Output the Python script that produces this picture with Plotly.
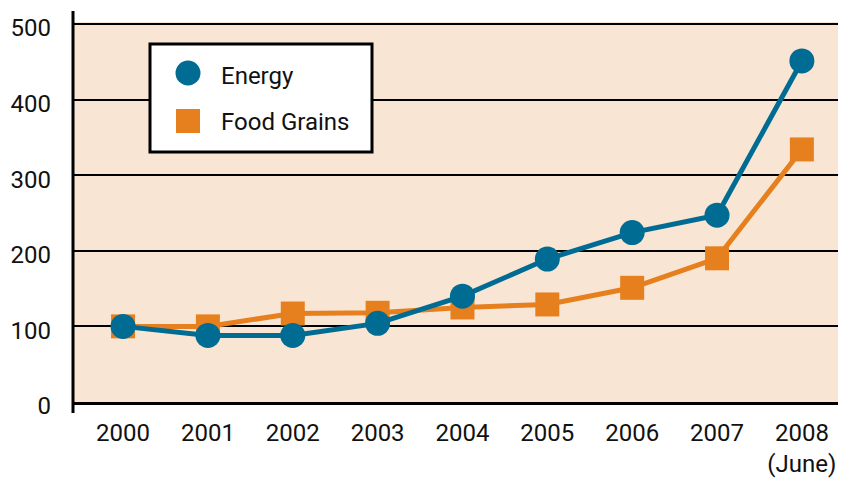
import plotly.graph_objects as go

categories = ["2000", "2001", "2002", "2003", "2004", "2005", "2006", "2007", "2008"]
tick_labels = ["2000", "2001", "2002", "2003", "2004", "2005", "2006", "2007", "2008<br>(June)"]
energy = [100, 88, 88, 104, 140, 189, 224, 247, 451]
food_grains = [100, 100, 117, 118, 125, 129, 151, 190, 334]
y_ticks = [0, 100, 200, 300, 400, 500]

BLUE = "#006c93"
ORANGE = "#e6801f"
BG = "#f9e5d4"
FONT = "Roboto, Liberation Sans, sans-serif"
FSIZE = 24

# page body has an 8px margin; size the figure so it ends at the window edge
OFF = 8
W, H = 846 - OFF, 478 - OFF
L, R, T, B = 73 - OFF, 0, 22 - OFF, 76
PW, PH = W - L - R, H - T - B


def px(x):
    """absolute window x -> paper x"""
    return (x - OFF - L) / PW


def py(y):
    """absolute window y -> paper y"""
    return (H - B - (y - OFF)) / PH


fig = go.Figure()
fig.add_trace(go.Scatter(
    x=categories, y=food_grains, name="Food Grains", mode="lines+markers",
    line=dict(color=ORANGE, width=5),
    marker=dict(symbol="square", size=24, color=ORANGE),
    showlegend=False,
))
fig.add_trace(go.Scatter(
    x=categories, y=energy, name="Energy", mode="lines+markers",
    line=dict(color=BLUE, width=5),
    marker=dict(symbol="circle", size=25, color=BLUE),
    showlegend=False,
))

shapes = [
    # extended y axis line
    dict(type="line", xref="paper", yref="paper", x0=0, x1=0,
         y0=py(413), y1=py(11), line=dict(color="black", width=3), layer="above"),
    # legend box
    dict(type="rect", xref="paper", yref="paper", x0=px(150), x1=px(372),
         y0=py(152), y1=py(44), fillcolor="white",
         line=dict(color="black", width=3), layer="above"),
    dict(type="circle", xref="paper", yref="paper", x0=px(175.5), x1=px(200.5),
         y0=py(85.5), y1=py(60.5), fillcolor=BLUE, line=dict(width=0), layer="above"),
    dict(type="rect", xref="paper", yref="paper", x0=px(176), x1=px(200),
         y0=py(133), y1=py(109), fillcolor=ORANGE, line=dict(width=0), layer="above"),
]

annotations = [
    dict(text="Energy", xref="paper", yref="paper", x=px(219), y=py(76),
         xanchor="left", yanchor="middle", showarrow=False,
         font=dict(family=FONT, size=FSIZE, color="#111")),
    dict(text="Food Grains", xref="paper", yref="paper", x=px(219), y=py(122),
         xanchor="left", yanchor="middle", showarrow=False,
         font=dict(family=FONT, size=FSIZE, color="#111")),
]

fig.update_layout(
    width=W, height=H,
    margin=dict(l=L, r=R, t=T, b=B, pad=0, autoexpand=False),
    paper_bgcolor="white", plot_bgcolor=BG,
    font=dict(family=FONT, size=FSIZE, color="#111"),
    shapes=shapes, annotations=annotations,
    xaxis=dict(
        type="category", range=[-0.59, 8.52], automargin=False,
        tickvals=categories, ticktext=tick_labels,
        showgrid=False, zeroline=False,
        showline=True, linecolor="black", linewidth=3,
        ticks="", ticklabelstandoff=7, ticklabeloverflow="allow",
    ),
    yaxis=dict(
        range=[0, 502.5], tickvals=y_ticks, automargin=False,
        showgrid=True, gridcolor="black", gridwidth=2,
        zeroline=False, showline=False,
        ticks="", ticklabelstandoff=21, ticklabelshift=4,
        ticklabeloverflow="allow",
    ),
)

fig.write_html("out.html")
